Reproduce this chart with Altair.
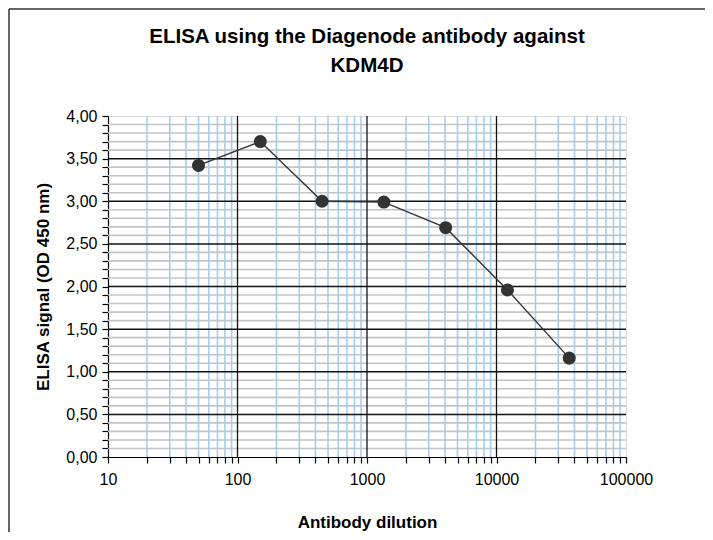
import altair as alt
import pandas as pd

# Data
dilution = [50, 150, 450, 1350, 4050, 12150, 36450]
signal = [3.42, 3.70, 3.00, 2.99, 2.69, 1.96, 1.16]

title_lines = ["ELISA using the Diagenode antibody against", "KDM4D"]

x_major_labels = [10, 100, 1000, 10000, 100000]
x_major_grid = [100, 1000, 10000]
x_minor = [m * 10 ** e for e in range(1, 5) for m in range(2, 10)]
x_ticks = sorted(x_major_labels + x_minor)

y_ticks = [round(i * 0.1, 1) for i in range(41)]
y_major_grid = [0.5, 1.0, 1.5, 2.0, 2.5, 3.0, 3.5]
y_minor_grid = [v for v in y_ticks if v not in y_major_grid and v not in (0.0, 4.0)]

FONT = "Liberation Sans"

df = pd.DataFrame({"dilution": dilution, "signal": signal})

xscale = alt.Scale(type="log", domain=[10, 100000], nice=False)
yscale = alt.Scale(domain=[0, 4], nice=False, zero=True)

x_axis = alt.Axis(
    values=x_ticks,
    labelExpr="indexof([10,100,1000,10000,100000], datum.value) >= 0 ? format(datum.value, 'd') : ''",
    grid=False, tickSize=6, tickColor="black", tickWidth=1.2,
    domainColor="black", domainWidth=1.2,
    labelFont=FONT, labelFontSize=16, labelColor="black", labelPadding=8,
    title="Antibody dilution", titleFont=FONT, titleFontSize=17,
    titleFontWeight="bold", titleColor="black", titlePadding=27,
    labelFlush=False, labelOverlap=False,
)
y_axis = alt.Axis(
    values=y_ticks,
    labelExpr="abs(datum.value*2 - round(datum.value*2)) < 1e-6 ? replace(format(datum.value, '.2f'), '.', ',') : ''",
    grid=False, tickSize=6, tickColor="black", tickWidth=1.2,
    domainColor="black", domainWidth=1.2,
    labelFont=FONT, labelFontSize=16, labelColor="black", labelPadding=5,
    title="ELISA signal (OD 450 nm)", titleFont=FONT, titleFontSize=17,
    titleFontWeight="bold", titleColor="black", titlePadding=13,
    labelOverlap=False,
)

X = lambda f: alt.X(f, scale=xscale, axis=x_axis)
Y = lambda f: alt.Y(f, scale=yscale, axis=y_axis)

h_minor = alt.Chart(pd.DataFrame({"y": y_minor_grid})).mark_rule(
    color="#c4c4c4", strokeWidth=1.6
).encode(y=Y("y:Q"))

v_minor = alt.Chart(pd.DataFrame({"x": x_minor})).mark_rule(
    color="#a7cdee", strokeWidth=1.6
).encode(x=X("x:Q"))

h_major = alt.Chart(pd.DataFrame({"y": y_major_grid})).mark_rule(
    color="#111111", strokeWidth=1.5
).encode(y=Y("y:Q"))

v_major = alt.Chart(pd.DataFrame({"x": x_major_grid})).mark_rule(
    color="#111111", strokeWidth=1.3
).encode(x=X("x:Q"))

line = alt.Chart(df).mark_line(color="#333333", strokeWidth=1.4).encode(
    x=X("dilution:Q"), y=Y("signal:Q"),
)
points = alt.Chart(df).mark_circle(color="#333333", opacity=1, size=170).encode(
    x=X("dilution:Q"), y=Y("signal:Q"),
)

# chart title as text (two lines)
title1 = alt.Chart(pd.DataFrame({"t": [title_lines[0]]})).mark_text(
    font=FONT, fontSize=20.5, fontWeight="bold", color="black", baseline="alphabetic", align="center"
).encode(text="t:N", x=alt.value(259), y=alt.value(-73))
title2 = alt.Chart(pd.DataFrame({"t": [title_lines[1]]})).mark_text(
    font=FONT, fontSize=20.5, fontWeight="bold", color="black", baseline="alphabetic", align="center"
).encode(text="t:N", x=alt.value(259), y=alt.value(-44))

# outer frame lines (top and left edges of the figure)
frame_top = alt.Chart(pd.DataFrame({"a": [0]})).mark_rule(color="#333333", strokeWidth=1.5).encode(
    x=alt.value(-99), x2=alt.value(610), y=alt.value(-107)
)
frame_left = alt.Chart(pd.DataFrame({"a": [0]})).mark_rule(color="#333333", strokeWidth=1.5).encode(
    x=alt.value(-99), y=alt.value(-107), y2=alt.value(420)
)

chart = alt.layer(
    h_minor, v_minor, h_major, v_major, line, points, title1, title2, frame_top, frame_left
).properties(
    width=518,
    height=341,
    autosize=alt.AutoSizeParams(type="none"),
    padding={"left": 100, "top": 108, "right": 79, "bottom": 75},
).configure_view(stroke="#a0a0a0", strokeWidth=1.5).configure_axis(
    labelOverlap=False
).configure(background="white")

chart.save("out.html", embed_options={"renderer": "svg", "actions": False})
